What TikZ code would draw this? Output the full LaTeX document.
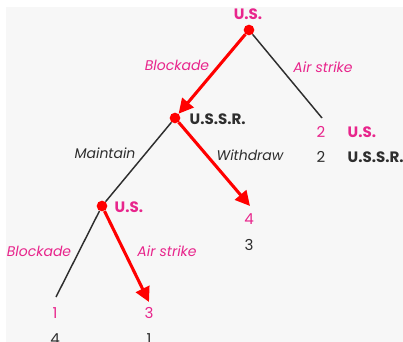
\documentclass[tikz,border=0pt]{standalone}
\usepackage{fontspec}
\setmainfont{Poppins}
\usetikzlibrary{arrows.meta}
\definecolor{bgc}{HTML}{F7F7F7}
\definecolor{mag}{HTML}{E8258C}
\definecolor{dk}{HTML}{2E2E2E}
\definecolor{rd}{HTML}{FF0000}
\tikzset{
  dot/.style={circle,fill=rd,inner sep=0pt,minimum size=8pt},
  thinline/.style={draw=dk,line width=1.1pt},
  redarrow/.style={draw=rd,line width=2.3pt,-{Triangle[length=11pt,width=11pt]}},
  plabel/.style={text=mag,font=\fontsize{11.3}{13}\selectfont\bfseries},
  klabel/.style={text=dk,font=\fontsize{11.3}{13}\selectfont\bfseries},
  mlabel/.style={text=mag,font=\fontsize{10.5}{12}\selectfont\itshape},
  dlabel/.style={text=dk,font=\fontsize{10.5}{12}\selectfont\itshape},
  pnum/.style={text=mag,font=\fontsize{11.3}{13}\selectfont},
  knum/.style={text=dk,font=\fontsize{11.3}{13}\selectfont},
}
\begin{document}
\begin{tikzpicture}[x=0.75pt,y=-0.75pt]
\useasboundingbox (0,0) rectangle (403,342);
\fill[bgc] (6,7) rectangle (403,342);
% nodes
\node[dot] (root) at (249,30) {};
\node[dot] (ussr) at (175,118) {};
\node[dot] (us2) at (102,206) {};
\coordinate (air1) at (322,118);
\coordinate (wd) at (250,206);
\coordinate (bl2) at (56,297);
\coordinate (air2) at (149,302);
% connectors
\draw[thinline] (root) -- (air1);
\draw[thinline] (ussr) -- (us2);
\draw[thinline] (us2) -- (bl2);
\draw[redarrow] (root) -- (ussr);
\draw[redarrow] (ussr) -- (wd);
\draw[redarrow] (us2) -- (air2);
% player labels
\node[plabel] (lroot) at (248,14) {U.S.};
\node[klabel,anchor=west] (lussr) at (185,119) {U.S.S.R.};
\node[plabel,anchor=west] (lus2) at (110,207) {U.S.};
% action labels
\node[mlabel] (a1) at (177,65) {Blockade};
\node[mlabel] (a2) at (323,67) {Air strike};
\node[dlabel] (a3) at (105,153) {Maintain};
\node[dlabel] (a4) at (250,155) {Withdraw};
\node[mlabel] (a5) at (39,251) {Blockade};
\node[mlabel] (a6) at (167,251) {Air strike};
% payoffs
\node[pnum] (p1a) at (321,132) {2};
\node[plabel,anchor=west] (p1b) at (343,132) {U.S.};
\node[knum] (p1c) at (321,157) {2};
\node[klabel,anchor=west] (p1d) at (343,157) {U.S.S.R.};
\node[pnum] (p2a) at (249,219) {4};
\node[knum] (p2b) at (249,245) {3};
\node[pnum] (p3a) at (55,313) {1};
\node[knum] (p3b) at (55,339) {4};
\node[pnum] (p4a) at (149,313) {3};
\node[knum] (p4b) at (149,339) {1};
\end{tikzpicture}
\end{document}
